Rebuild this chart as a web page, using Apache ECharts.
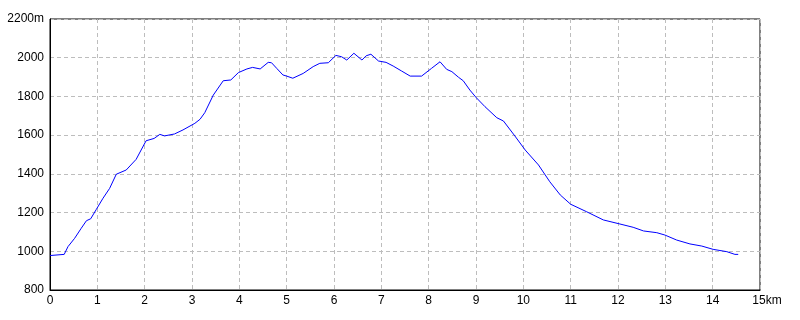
<!DOCTYPE html>
<html>
<head>
<meta charset="utf-8">
<script src="https://cdn.jsdelivr.net/npm/echarts@6/dist/echarts.min.js"></script>
<style>html,body{margin:0;padding:0;background:#fff;}#c{width:800px;height:320px;}</style>
</head>
<body>
<div id="c"></div>
<script>
const distanceKm = [0, 0.30, 0.38, 0.52, 0.66, 0.77, 0.86, 0.98, 1.12, 1.26, 1.40, 1.61, 1.82, 2.03, 2.20, 2.32, 2.42, 2.63, 2.81, 3.06, 3.17, 3.27, 3.45, 3.66, 3.82, 3.98, 4.16, 4.28, 4.44, 4.61, 4.68, 4.79, 4.92, 5.0, 5.13, 5.35, 5.56, 5.70, 5.88, 6.04, 6.16, 6.27, 6.42, 6.59, 6.68, 6.78, 6.94, 7.10, 7.25, 7.43, 7.61, 7.85, 8.06, 8.24, 8.38, 8.49, 8.63, 8.73, 8.87, 9.0, 9.19, 9.44, 9.58, 9.82, 10.04, 10.32, 10.56, 10.78, 11.0, 11.34, 11.69, 12.04, 12.32, 12.54, 12.82, 12.99, 13.24, 13.52, 13.77, 14.01, 14.30, 14.47, 14.54];
const elevationM = [978, 984, 1024, 1067, 1119, 1158, 1168, 1217, 1274, 1325, 1398, 1420, 1475, 1571, 1583, 1604, 1596, 1606, 1627, 1661, 1682, 1716, 1807, 1881, 1885, 1923, 1942, 1950, 1942, 1976, 1974, 1945, 1911, 1905, 1894, 1919, 1954, 1971, 1974, 2012, 2005, 1988, 2023, 1988, 2010, 2018, 1983, 1976, 1957, 1931, 1905, 1905, 1945, 1979, 1940, 1928, 1899, 1881, 1833, 1795, 1747, 1690, 1673, 1596, 1523, 1446, 1359, 1291, 1243, 1204, 1162, 1141, 1124, 1105, 1096, 1084, 1058, 1038, 1027, 1010, 998, 984, 984];
const xTicks = [0,1,2,3,4,5,6,7,8,9,10,11,12,13,14,15];
const yTicks = [800,1000,1200,1400,1600,1800,2000,2200];

const chart = echarts.init(document.getElementById('c'), null, {renderer:'canvas'});
const font = 'Liberation Sans';
chart.setOption({
  animation: false,
  backgroundColor: '#fff',
  grid: {left: 50, right: 40, top: 19, bottom: 30, show: true, borderColor: '#000', borderWidth: 1},
  xAxis: {
    type: 'value', min: xTicks[0], max: xTicks[xTicks.length-1], interval: 1,
    axisLine: {show: true, lineStyle: {color: '#000', width: 1}},
    axisTick: {show: false},
    splitLine: {show: true, lineStyle: {color: '#bdbdbd', type: [4,3], width: 1}},
    axisLabel: {
      color: '#000', fontFamily: font, fontSize: 12, margin: 5,
      formatter: v => v === 15 ? '{p|}15km' : String(v),
      rich: {p: {width: 14}}
    }
  },
  yAxis: {
    type: 'value', min: yTicks[0], max: yTicks[yTicks.length-1], interval: 200,
    axisLine: {show: true, lineStyle: {color: '#000', width: 1}},
    axisTick: {show: false},
    splitLine: {show: true, lineStyle: {color: '#bdbdbd', type: [4,3], width: 1}},
    axisLabel: {
      color: '#000', fontFamily: font, fontSize: 12, margin: 6,
      formatter: v => v === 2200 ? '2200m' : String(v)
    }
  },
  series: [{
    type: 'line',
    data: distanceKm.map((d, i) => [d, elevationM[i]]),
    showSymbol: false,
    lineStyle: {color: '#0000ff', width: 1},
    itemStyle: {color: '#0000ff'}
  }]
});
</script>
</body>
</html>
